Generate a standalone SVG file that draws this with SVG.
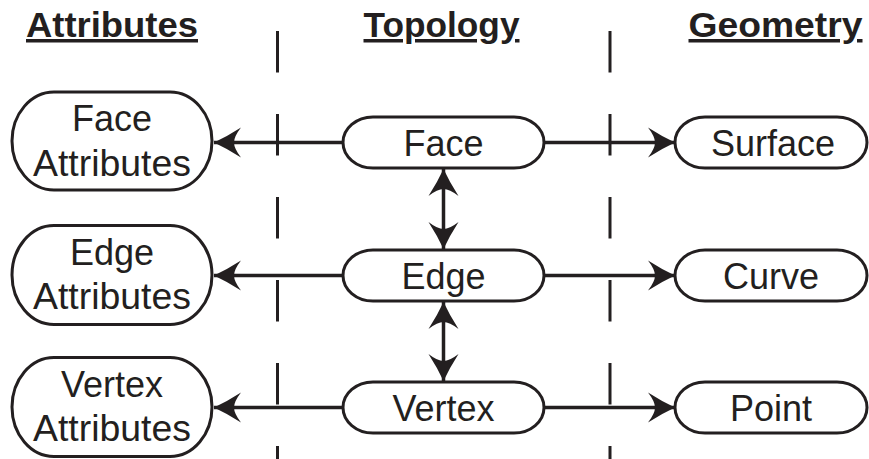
<svg xmlns="http://www.w3.org/2000/svg" width="869" height="459" viewBox="0 0 869 459">
<style>
.bg{fill:#fff}
.node{fill:#fff;stroke:#231f20;stroke-width:3}
.lbl{font-family:"Liberation Sans",Arial,sans-serif;font-size:36px;fill:#231f20;text-anchor:middle}
.hdr{font-family:"Liberation Sans",Arial,sans-serif;font-size:35px;font-weight:bold;fill:#231f20;text-anchor:middle;text-decoration:underline}
.conn{stroke:#231f20;stroke-width:3.5;fill:none}
.dash{stroke:#231f20;stroke-width:3;stroke-dasharray:41.5 41.5;fill:none}
</style>
<defs>
<marker id="ah" viewBox="-28 -16 29 32" refX="0" refY="0" markerUnits="userSpaceOnUse" markerWidth="29" markerHeight="32" orient="auto-start-reverse">
<path d="M0,0 Q-13,-6 -27,-15 Q-20,-6 -20,0 Q-20,6 -27,15 Q-13,6 0,0Z" fill="#231f20"/>
</marker>
</defs>
<rect class="bg" x="0" y="0" width="869" height="459"/>
<g id="headers">
<text class="hdr" x="112" y="37" textLength="172" lengthAdjust="spacingAndGlyphs">Attributes</text>
<text class="hdr" x="441.5" y="37" textLength="156" lengthAdjust="spacingAndGlyphs">Topology</text>
<text class="hdr" x="775.5" y="37" textLength="174" lengthAdjust="spacingAndGlyphs">Geometry</text>
</g>
<g id="dividers">
<line class="dash" x1="277.5" y1="31" x2="277.5" y2="459"/>
<line class="dash" x1="610" y1="31" x2="610" y2="459"/>
</g>
<g id="connectors">
<line class="conn" x1="343" y1="142.5" x2="214" y2="142.5" marker-end="url(#ah)"/>
<line class="conn" x1="544" y1="142.5" x2="675" y2="142.5" marker-end="url(#ah)"/>
<line class="conn" x1="343" y1="275.5" x2="214" y2="275.5" marker-end="url(#ah)"/>
<line class="conn" x1="544" y1="275.5" x2="675" y2="275.5" marker-end="url(#ah)"/>
<line class="conn" x1="343" y1="407.5" x2="214" y2="407.5" marker-end="url(#ah)"/>
<line class="conn" x1="544" y1="407.5" x2="675" y2="407.5" marker-end="url(#ah)"/>
<line class="conn" x1="443.5" y1="169" x2="443.5" y2="249" marker-start="url(#ah)" marker-end="url(#ah)"/>
<line class="conn" x1="443.5" y1="302" x2="443.5" y2="381" marker-start="url(#ah)" marker-end="url(#ah)"/>
</g>
<g id="face-attributes">
<rect class="node" x="12" y="92" width="200" height="98" rx="42" ry="49"/>
<text class="lbl" x="112" y="131">Face</text>
<text class="lbl" x="112" y="176" textLength="158" lengthAdjust="spacingAndGlyphs">Attributes</text>
</g>
<g id="edge-attributes">
<rect class="node" x="12" y="225.5" width="200" height="99" rx="42" ry="49.5"/>
<text class="lbl" x="112" y="265">Edge</text>
<text class="lbl" x="112" y="309" textLength="158" lengthAdjust="spacingAndGlyphs">Attributes</text>
</g>
<g id="vertex-attributes">
<rect class="node" x="12" y="357.5" width="200" height="99" rx="42" ry="49.5"/>
<text class="lbl" x="112" y="397">Vertex</text>
<text class="lbl" x="112" y="441" textLength="158" lengthAdjust="spacingAndGlyphs">Attributes</text>
</g>
<g id="face">
<rect class="node" x="343" y="117" width="201" height="51" rx="30" ry="25.5"/>
<text class="lbl" x="443.5" y="155.5">Face</text>
</g>
<g id="edge">
<rect class="node" x="343" y="250" width="201" height="51" rx="30" ry="25.5"/>
<text class="lbl" x="443.5" y="288.5">Edge</text>
</g>
<g id="vertex">
<rect class="node" x="343" y="382" width="201" height="51" rx="30" ry="25.5"/>
<text class="lbl" x="443.5" y="420.5">Vertex</text>
</g>
<g id="surface">
<rect class="node" x="675" y="117" width="192" height="51" rx="30" ry="25.5"/>
<text class="lbl" x="773" y="155.5">Surface</text>
</g>
<g id="curve">
<rect class="node" x="675" y="250" width="192" height="51" rx="30" ry="25.5"/>
<text class="lbl" x="771" y="288.5">Curve</text>
</g>
<g id="point">
<rect class="node" x="675" y="382" width="192" height="51" rx="30" ry="25.5"/>
<text class="lbl" x="771" y="420.5">Point</text>
</g>
</svg>
